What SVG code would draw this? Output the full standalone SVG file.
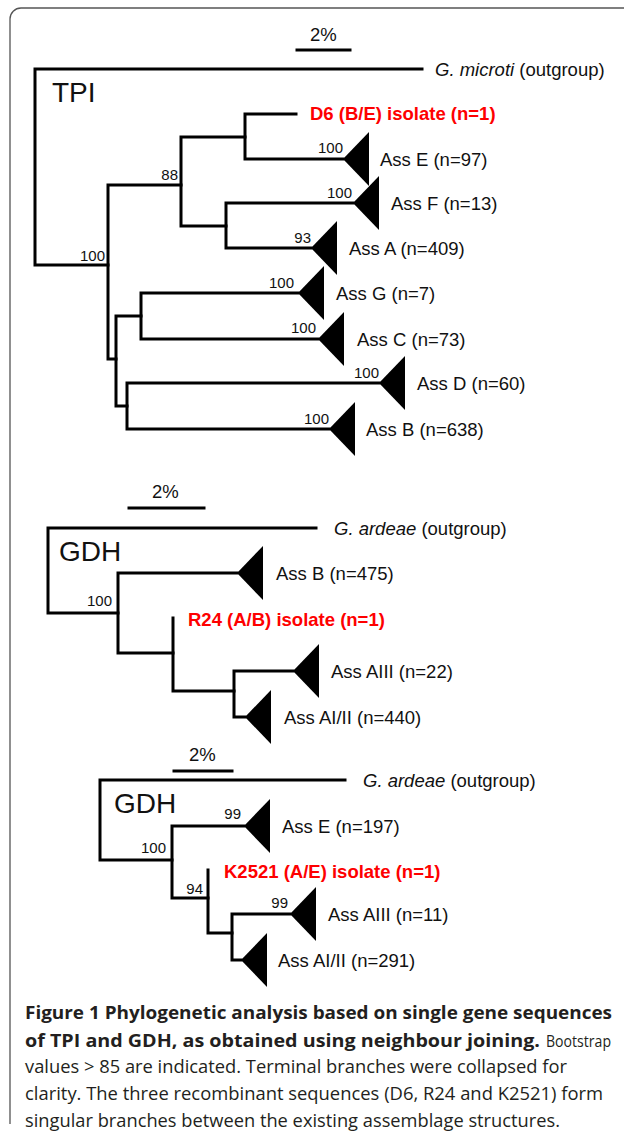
<svg xmlns="http://www.w3.org/2000/svg" width="625" height="1135" viewBox="0 0 625 1135">
<style>
.br{fill:none;stroke:#000;stroke-width:3;stroke-linecap:square;stroke-linejoin:miter}
.tri{fill:#000}
.lab{font-family:"Liberation Sans",Arial,sans-serif;font-size:18.5px;fill:#111}
.bs{font-family:"Liberation Sans",Arial,sans-serif;font-size:15px;fill:#111;text-anchor:end}
.red{font-family:"Liberation Sans",Arial,sans-serif;font-size:18.5px;font-weight:bold;fill:#fe0000}
.big{font-family:"Liberation Sans",Arial,sans-serif;font-size:28px;fill:#111}
.cap{font-family:"Open Sans","Noto Sans",sans-serif;font-size:18px;fill:#231f20}
.capb{font-family:"Open Sans","Noto Sans",sans-serif;font-size:18px;font-weight:bold;fill:#231f20}
</style>
<rect width="625" height="1135" fill="#fff"/>
<path d="M10,1124 V19 A11,11 0 0 1 21,8 H624" fill="none" stroke="#555" stroke-width="1.3"/>

<g id="connectors">
  <!-- TPI -->
  <path class="br" d="M297,50 H350"/>
  <path class="br" d="M422,69 H35 V265 H108"/>
  <path class="br" d="M181,185 H108 V359 H116"/>
  <path class="br" d="M245,137 H181 V226 H226"/>
  <path class="br" d="M296,114 H245 V159 H343"/>
  <path class="br" d="M353,203 H226 V248 H311"/>
  <path class="br" d="M141,316 H116 V406 H127"/>
  <path class="br" d="M298,293 H141 V339 H318"/>
  <path class="br" d="M379,383 H127 V429 H329"/>
  <!-- GDH 1 -->
  <path class="br" d="M129,508 H204"/>
  <path class="br" d="M316,528 H48 V613 H118"/>
  <path class="br" d="M237,573 H118 V653 H173"/>
  <path class="br" d="M173,618 V691 H234"/>
  <path class="br" d="M293,671 H234 V717 H245"/>
  <!-- GDH 2 -->
  <path class="br" d="M174,771 H232"/>
  <path class="br" d="M345,780 H100 V860 H172"/>
  <path class="br" d="M244,826 H172 V898 H208"/>
  <path class="br" d="M208,870 V933 H232"/>
  <path class="br" d="M290,914 H232 V960 H241"/>
</g>

<g id="bootstrap">
  <text class="bs" x="105" y="261">100</text>
  <text class="bs" x="178" y="180">88</text>
  <text class="bs" x="343" y="153">100</text>
  <text class="bs" x="352" y="198">100</text>
  <text class="bs" x="311" y="243">93</text>
  <text class="bs" x="294" y="288">100</text>
  <text class="bs" x="316" y="333">100</text>
  <text class="bs" x="379" y="378">100</text>
  <text class="bs" x="329" y="424">100</text>
  <text class="bs" x="112" y="606">100</text>
  <text class="bs" x="241" y="819">99</text>
  <text class="bs" x="166" y="853">100</text>
  <text class="bs" x="203" y="894">94</text>
  <text class="bs" x="288" y="908">99</text>
</g>

<!-- TPI tree -->
<g id="tpi-title">
  <text class="lab" x="310" y="41">2%</text>
  <text class="big" x="52" y="102">TPI</text>
</g>
<g id="tpi-outgroup"><text class="lab" x="435" y="76"><tspan font-style="italic">G. microti</tspan> (outgroup)</text></g>
<g id="tpi-d6"><text class="red" x="310" y="120">D6 (B/E) isolate (n=1)</text></g>
<g id="tpi-assE"><path class="tri" d="M343,159 L369,132 V186 Z"/><text class="lab" x="380" y="166">Ass E (n=97)</text></g>
<g id="tpi-assF"><path class="tri" d="M353,203 L379,176 V230 Z"/><text class="lab" x="391" y="210">Ass F (n=13)</text></g>
<g id="tpi-assA"><path class="tri" d="M311,248 L337,221 V275 Z"/><text class="lab" x="349" y="255">Ass A (n=409)</text></g>
<g id="tpi-assG"><path class="tri" d="M298,293 L324,266 V320 Z"/><text class="lab" x="336" y="300">Ass G (n=7)</text></g>
<g id="tpi-assC"><path class="tri" d="M318,339 L344,312 V366 Z"/><text class="lab" x="357" y="346">Ass C (n=73)</text></g>
<g id="tpi-assD"><path class="tri" d="M379,383 L405,356 V410 Z"/><text class="lab" x="417" y="390">Ass D (n=60)</text></g>
<g id="tpi-assB"><path class="tri" d="M329,429 L355,402 V456 Z"/><text class="lab" x="366" y="436">Ass B (n=638)</text></g>

<!-- GDH tree 1 -->
<g id="gdh1-title">
  <text class="lab" x="152" y="498">2%</text>
  <text class="big" x="59" y="561">GDH</text>
</g>
<g id="gdh1-outgroup"><text class="lab" x="334" y="535"><tspan font-style="italic">G. ardeae</tspan> (outgroup)</text></g>
<g id="gdh1-assB"><path class="tri" d="M237,573 L263,546 V600 Z"/><text class="lab" x="276" y="580">Ass B (n=475)</text></g>
<g id="gdh1-r24"><text class="red" x="188" y="626">R24 (A/B) isolate (n=1)</text></g>
<g id="gdh1-assAIII"><path class="tri" d="M293,671 L319,644 V698 Z"/><text class="lab" x="331" y="678">Ass AIII (n=22)</text></g>
<g id="gdh1-assAI"><path class="tri" d="M245,717 L271,690 V744 Z"/><text class="lab" x="284" y="724">Ass AI/II (n=440)</text></g>

<!-- GDH tree 2 -->
<g id="gdh2-title">
  <text class="lab" x="189" y="761">2%</text>
  <text class="big" x="114" y="813">GDH</text>
</g>
<g id="gdh2-outgroup"><text class="lab" x="363" y="787"><tspan font-style="italic">G. ardeae</tspan> (outgroup)</text></g>
<g id="gdh2-assE"><path class="tri" d="M244,826 L270,799 V853 Z"/><text class="lab" x="282" y="833">Ass E (n=197)</text></g>
<g id="gdh2-k2521"><text class="red" x="224" y="878">K2521 (A/E) isolate (n=1)</text></g>
<g id="gdh2-assAIII"><path class="tri" d="M290,914 L316,887 V941 Z"/><text class="lab" x="328" y="921">Ass AIII (n=11)</text></g>
<g id="gdh2-assAI"><path class="tri" d="M241,960 L267,933 V987 Z"/><text class="lab" x="278" y="967">Ass AI/II (n=291)</text></g>

<!-- Caption -->
<g id="caption">
  <text class="capb" x="25" y="1019" textLength="587" lengthAdjust="spacingAndGlyphs">Figure 1 Phylogenetic analysis based on single gene sequences</text>
  <text class="capb" x="25" y="1047" textLength="515" lengthAdjust="spacingAndGlyphs">of TPI and GDH, as obtained using neighbour joining.</text>
  <text class="cap" x="546" y="1047" font-size="16" textLength="65" lengthAdjust="spacingAndGlyphs" style="font-size:16px">Bootstrap</text>
  <text class="cap" x="25" y="1073" textLength="542" lengthAdjust="spacingAndGlyphs">values &gt; 85 are indicated. Terminal branches were collapsed for</text>
  <text class="cap" x="25" y="1100" textLength="578" lengthAdjust="spacingAndGlyphs">clarity. The three recombinant sequences (D6, R24 and K2521) form</text>
  <text class="cap" x="25" y="1127" textLength="535" lengthAdjust="spacingAndGlyphs">singular branches between the existing assemblage structures.</text>
</g>
</svg>
